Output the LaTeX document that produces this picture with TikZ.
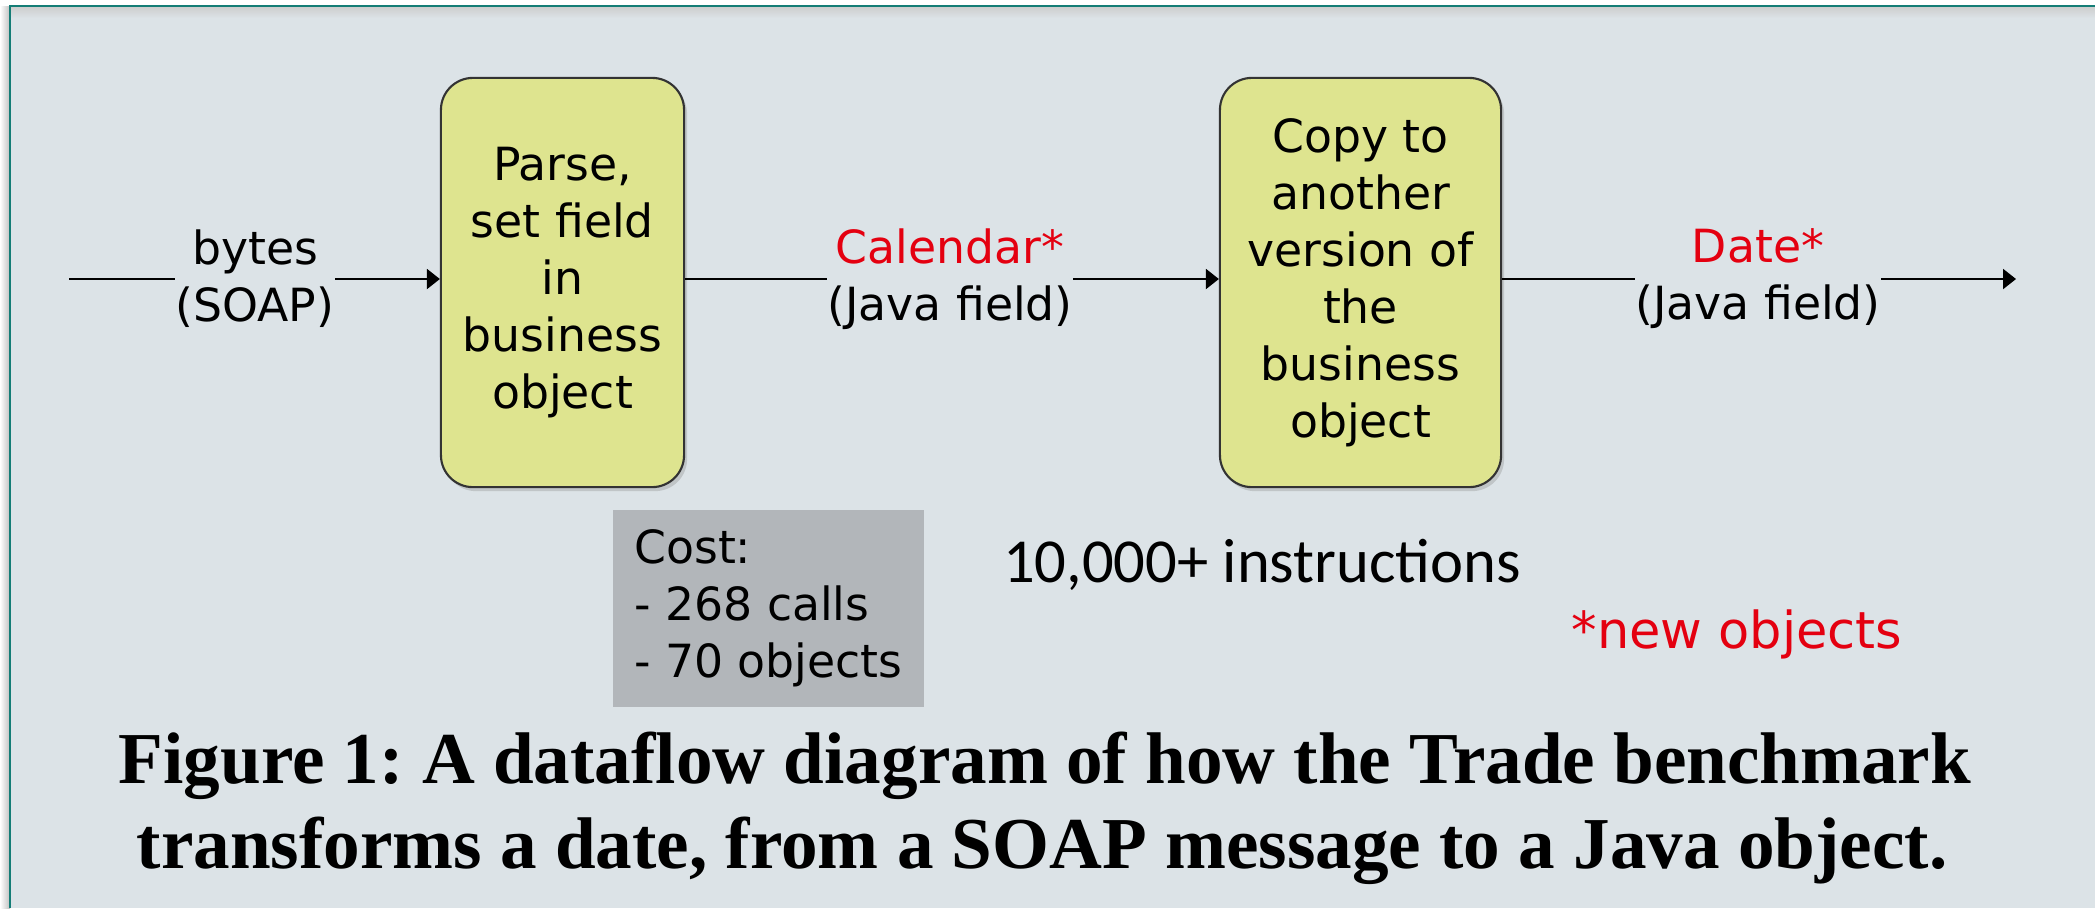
\documentclass[tikz,border=0pt]{standalone}
\usepackage{fontspec}
\newfontfamily\comicfnt{DejaVu Sans}
\newfontfamily\calibfnt{Carlito}
\newfontfamily\capfnt{Liberation Serif}
\usetikzlibrary{arrows.meta,shadows}
\frenchspacing

\definecolor{slide}{RGB}{220,227,231}
\definecolor{frameteal}{RGB}{20,125,118}
\definecolor{boxyellow}{RGB}{222,228,143}
\definecolor{costgray}{RGB}{178,182,186}
\definecolor{newred}{RGB}{228,0,16}

\begin{document}
\begin{tikzpicture}[x=0.01cm,y=-0.01cm]
	\tikzstyle{stage} = [
		rectangle, rounded corners=0.32cm, draw=black!80, line width=0.6pt, fill=boxyellow,
		minimum height=4.09cm, align=center, inner sep=0,
		font=\comicfnt\fontsize{13}{16.2}\selectfont,
		drop shadow={opacity=0.3, shadow xshift=0.3mm, shadow yshift=-0.4mm}
	]
	\tikzstyle{flow} = [
		inner sep=0, align=center, font=\comicfnt\fontsize{13}{16.2}\selectfont
	]
	\tikzstyle{line} = [
		line width=0.6pt, black
	]
	\tikzstyle{conn} = [
		line, -{Triangle[length=1.3mm, width=2mm]}
	]

	% Slide background and frame
	\useasboundingbox (0,0) rectangle (2095,908);
	\fill[white] (0,0) rectangle (2095,908);
	\shade[left color=white, right color=black!25] (0,6) rectangle (10,908);
	\fill[slide] (10,6) rectangle (2095,908);
	\shade[top color=black!20, bottom color=slide] (10,6) rectangle (2095,18);
	\draw[frameteal, line width=0.6pt] (10,908) -- (10,6) -- (2095,6);

	% Input
	\coordinate (in_start) at (69,279);
	\node (bytes) [flow] at (255,279) {bytes\\(SOAP)};

	% Parse
	\node (parse) [stage, minimum width=2.43cm] at (562.5,282.5)
		{Parse,\\set field\\in\\business\\object};

	% Calendar
	\node (calendar) [flow] at (950,279) {\textcolor{newred}{Calendar*}\\(Java field)};

	% Copy
	\node (copy) [stage, minimum width=2.81cm] at (1360.5,282.5)
		{Copy to\\another\\version of\\the\\business\\object};

	% Date
	\node (date) [flow] at (1758,279) {\textcolor{newred}{Date*}\\(Java field)};
	\coordinate (out_end) at (2016,279);

	% Connectors
	\draw[line] (in_start) -- (bytes.west);
	\draw[conn] (bytes.east) -- (bytes.east -| parse.west);
	\draw[line] (calendar.west -| parse.east) -- (calendar.west);
	\draw[conn] (calendar.east) -- (calendar.east -| copy.west);
	\draw[line] (date.west -| copy.east) -- (date.west);
	\draw[conn] (date.east) -- (out_end);

	% Cost
	\node (cost) [fill=costgray, minimum width=3.11cm, minimum height=1.97cm, inner sep=0,
		align=left, font=\comicfnt\fontsize{13}{16.2}\selectfont] at (768.5,608.5)
		{Cost:\\- 268 calls\\- 70 objects};

	% Notes
	\node (instr) [anchor=base, inner sep=0, font=\calibfnt\fontsize{17.8}{21}\selectfont]
		at (1262,582) {10,000+ instructions};
	\node (newobj) [anchor=base, inner sep=0, text=newred, font=\comicfnt\fontsize{14.5}{17}\selectfont]
		at (1737,648) {*new objects};

	% Caption
	\node (cap_a) [anchor=base, inner sep=0, font=\capfnt\bfseries\fontsize{20.8}{24}\selectfont]
		at (1045,783) {Figure 1: A dataflow diagram of how the Trade benchmark};
	\node (cap_b) [anchor=base, inner sep=0, font=\capfnt\bfseries\fontsize{20.8}{24}\selectfont]
		at (1042,868) {transforms a date, from a SOAP message to a Java object.};
\end{tikzpicture}
\end{document}
